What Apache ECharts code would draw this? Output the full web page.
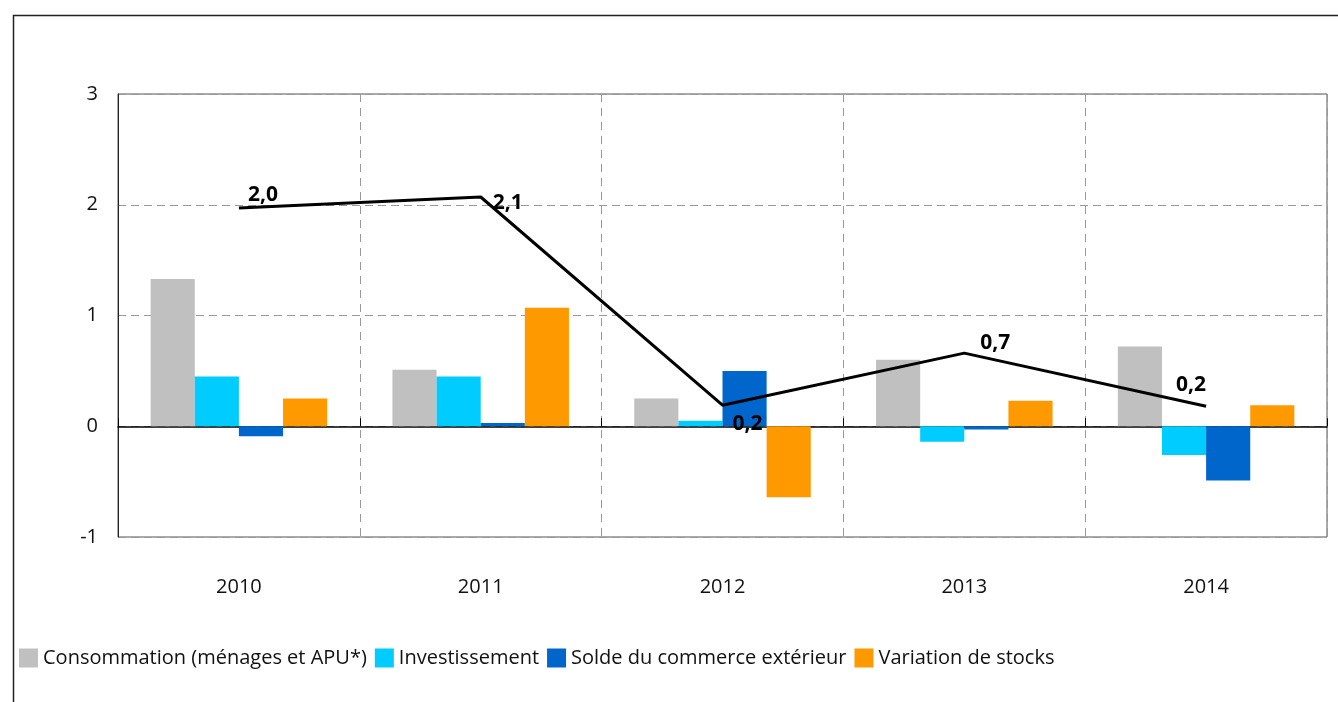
<!DOCTYPE html>
<html>
<head>
<meta charset="utf-8">
<script src="https://cdn.jsdelivr.net/npm/echarts@6/dist/echarts.min.js"></script>
<style>
html,body{margin:0;padding:0;background:#fff;}
#chart{width:1338px;height:702px;}
</style>
</head>
<body>
<div id="chart"></div>
<script>
const categories = ['2010', '2011', '2012', '2013', '2014'];
const consommation = [1.33, 0.51, 0.25, 0.60, 0.72];
const investissement = [0.45, 0.45, 0.05, -0.14, -0.26];
const solde = [-0.09, 0.03, 0.50, -0.03, -0.49];
const stocks = [0.25, 1.07, -0.64, 0.23, 0.19];
const pib = [1.97, 2.07, 0.19, 0.66, 0.18];
const yTicks = [-1, 0, 1, 2, 3];

const FONT = 'Open Sans';
const labelOffsets = [[24, -13], [27, 6], [25, 19], [31, -10], [-15, -21]];

const chart = echarts.init(document.getElementById('chart'), null, {renderer: 'canvas'});

const barNames = ['Consommation (ménages et APU*)', 'Investissement', 'Solde du commerce extérieur', 'Variation de stocks'];
const barData = [consommation, investissement, solde, stocks];
const barColors = ['#C0C0C0', '#00CCFF', '#0066CC', '#FF9900'];

const series = barNames.map((n, i) => ({
  name: n,
  type: 'bar',
  xAxisIndex: 0,
  data: barData[i],
  barGap: '0%',
  barCategoryGap: '27%',
  itemStyle: {color: barColors[i]},
  emphasis: {disabled: true},
  silent: true
}));

series.push({
  name: 'PIB',
  type: 'line',
  xAxisIndex: 0,
  data: pib.map((v, i) => ({
    value: v,
    label: {offset: labelOffsets[i]}
  })),
  symbol: 'circle',
  symbolSize: 0.01,
  lineStyle: {color: '#000', width: 3},
  itemStyle: {color: '#000'},
  label: {
    show: true,
    position: 'inside',
    fontFamily: FONT,
    fontSize: 21,
    fontWeight: 'bold',
    color: '#000',
    formatter: p => Number(p.value).toFixed(1).replace('.', ',')
  },
  z: 10,
  silent: true,
  animation: false
});

chart.setOption({
  animation: false,
  backgroundColor: '#fff',
  textStyle: {fontFamily: FONT},
  graphic: [{
    type: 'rect',
    left: 11, top: 13,
    shape: {width: 1340, height: 720},
    style: {fill: 'none', stroke: '#222', lineWidth: 1.5},
    silent: true
  }],
  grid: {
    left: 118, right: 11, top: 94, bottom: 165,
    show: true, borderColor: '#555', borderWidth: 1
  },
  legend: {
    data: barNames,
    left: 14, top: 643,
    icon: 'rect',
    itemWidth: 19, itemHeight: 19,
    itemGap: 8,
    textStyle: {fontFamily: FONT, fontSize: 20, color: '#111'},
    selectedMode: false
  },
  xAxis: [{
    type: 'category',
    data: categories,
    position: 'bottom',
    axisLine: {show: false, onZero: false},
    axisTick: {show: false},
    axisLabel: {margin: 40, fontFamily: FONT, fontSize: 20, color: '#111'},
    splitLine: {show: true, lineStyle: {color: '#999', type: [8, 6], width: 1}}
  }, {
    type: 'category',
    data: categories,
    position: 'bottom',
    axisLine: {show: true, onZero: true, lineStyle: {color: '#000', width: 1.5}},
    axisTick: {show: true, inside: true, length: 8, lineStyle: {color: '#000'}},
    axisLabel: {show: false},
    splitLine: {show: false}
  }],
  yAxis: {
    type: 'value',
    min: -1, max: 3, interval: 1,
    axisLine: {show: true, lineStyle: {color: '#222'}},
    axisTick: {show: false},
    axisLabel: {
      margin: 20, fontFamily: FONT, fontSize: 20, color: '#111',
      formatter: v => yTicks.includes(v) ? String(v) : ''
    },
    splitLine: {show: true, lineStyle: {color: '#999', type: [8, 5], width: 1}}
  },
  series: series
});
</script>
</body>
</html>
